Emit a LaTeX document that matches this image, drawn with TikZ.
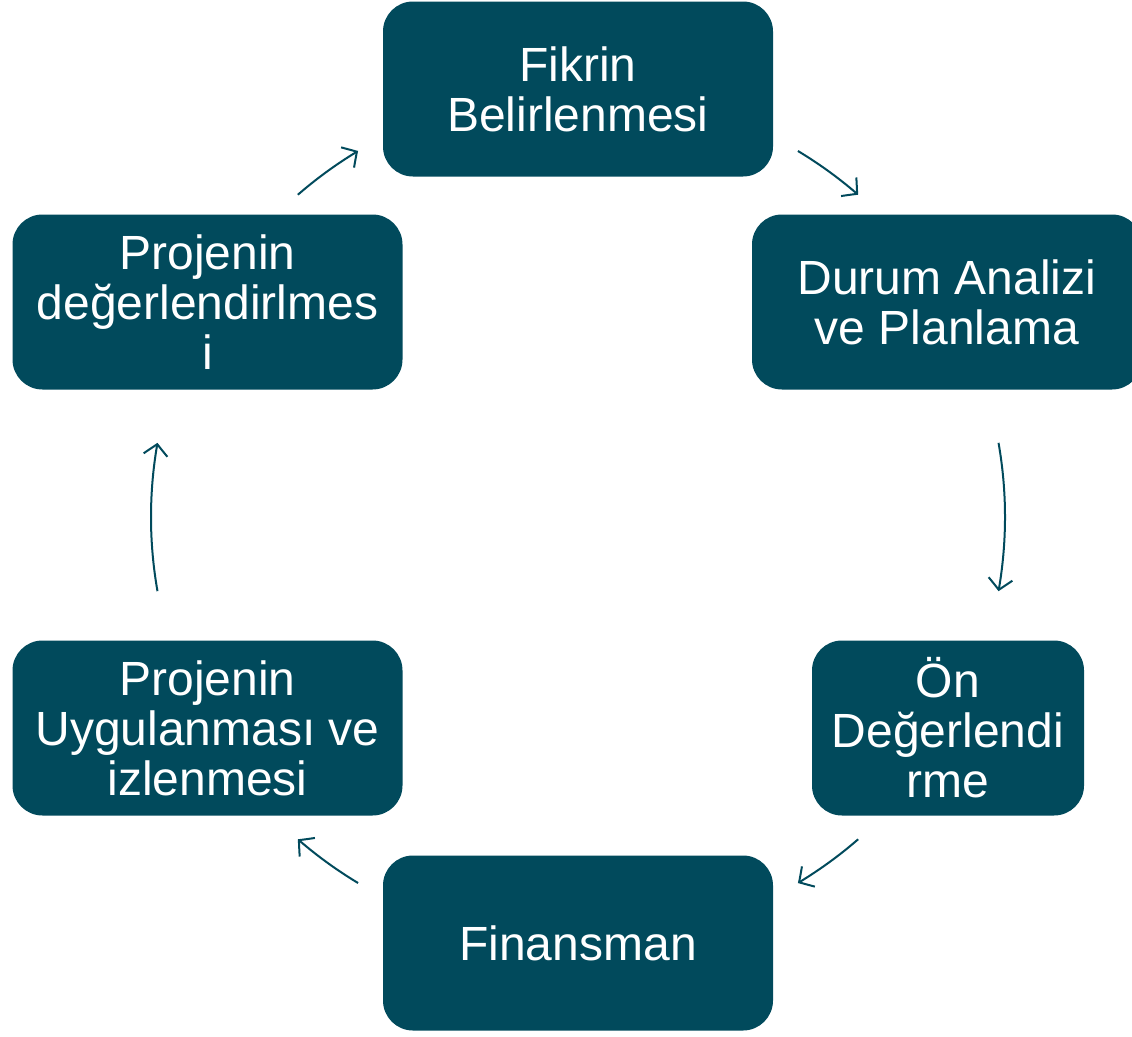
\documentclass[tikz,border=0pt]{standalone}
\usepackage{fontspec}
\setmainfont{Liberation Sans}
\usetikzlibrary{arrows.meta,calc,bending}
\definecolor{teal}{RGB}{1,74,92}
\tikzset{
  stepbox/.style={draw=none, fill=teal, rounded corners=30pt, text=white,
    align=center, inner sep=0pt, font=\fontsize{48}{50}\selectfont},
  wide/.style={stepbox, minimum width=390pt, minimum height=175pt},
  narrow/.style={stepbox, minimum width=272pt, minimum height=175pt},
  cyc/.style={draw=teal, line width=2pt, -{Straight Barb[length=11pt,width=24pt,line width=2pt,bend]}}
}
\begin{document}
\begin{tikzpicture}[x=1pt,y=-1pt]
  \useasboundingbox (0,0) rectangle (1132,1036);
  \node[wide]   (fikir) at (578,89)  {Fikrin\\Belirlenmesi};
  \node[wide]   (durum) at (947,302) {Durum Analizi\\ve Planlama};
  \node[narrow] (on)    at (948,728) {Ön\\Değerlendi\\rme};
  \node[wide]   (fin)   at (578,943) {Finansman};
  \node[wide]   (uyg)   at (207.5,728) {Projenin\\Uygulanması ve\\izlenmesi};
  \node[wide]   (deg)   at (207.5,302) {Projenin\\değerlendirlmes\\i};
  % cycle arrows on a common circle
  \coordinate (c) at (578,517);
  \draw[cyc] ($(c)+(-59:427)$) arc[start angle=-59, end angle=-49, radius=427];
  \draw[cyc] ($(c)+(-10:427)$) arc[start angle=-10, end angle=10, radius=427];
  \draw[cyc] ($(c)+(49:427)$) arc[start angle=49, end angle=59, radius=427];
  \draw[cyc] ($(c)+(121:427)$) arc[start angle=121, end angle=131, radius=427];
  \draw[cyc] ($(c)+(170:427)$) arc[start angle=170, end angle=190, radius=427];
  \draw[cyc] ($(c)+(229:427)$) arc[start angle=229, end angle=239, radius=427];
\end{tikzpicture}
\end{document}
